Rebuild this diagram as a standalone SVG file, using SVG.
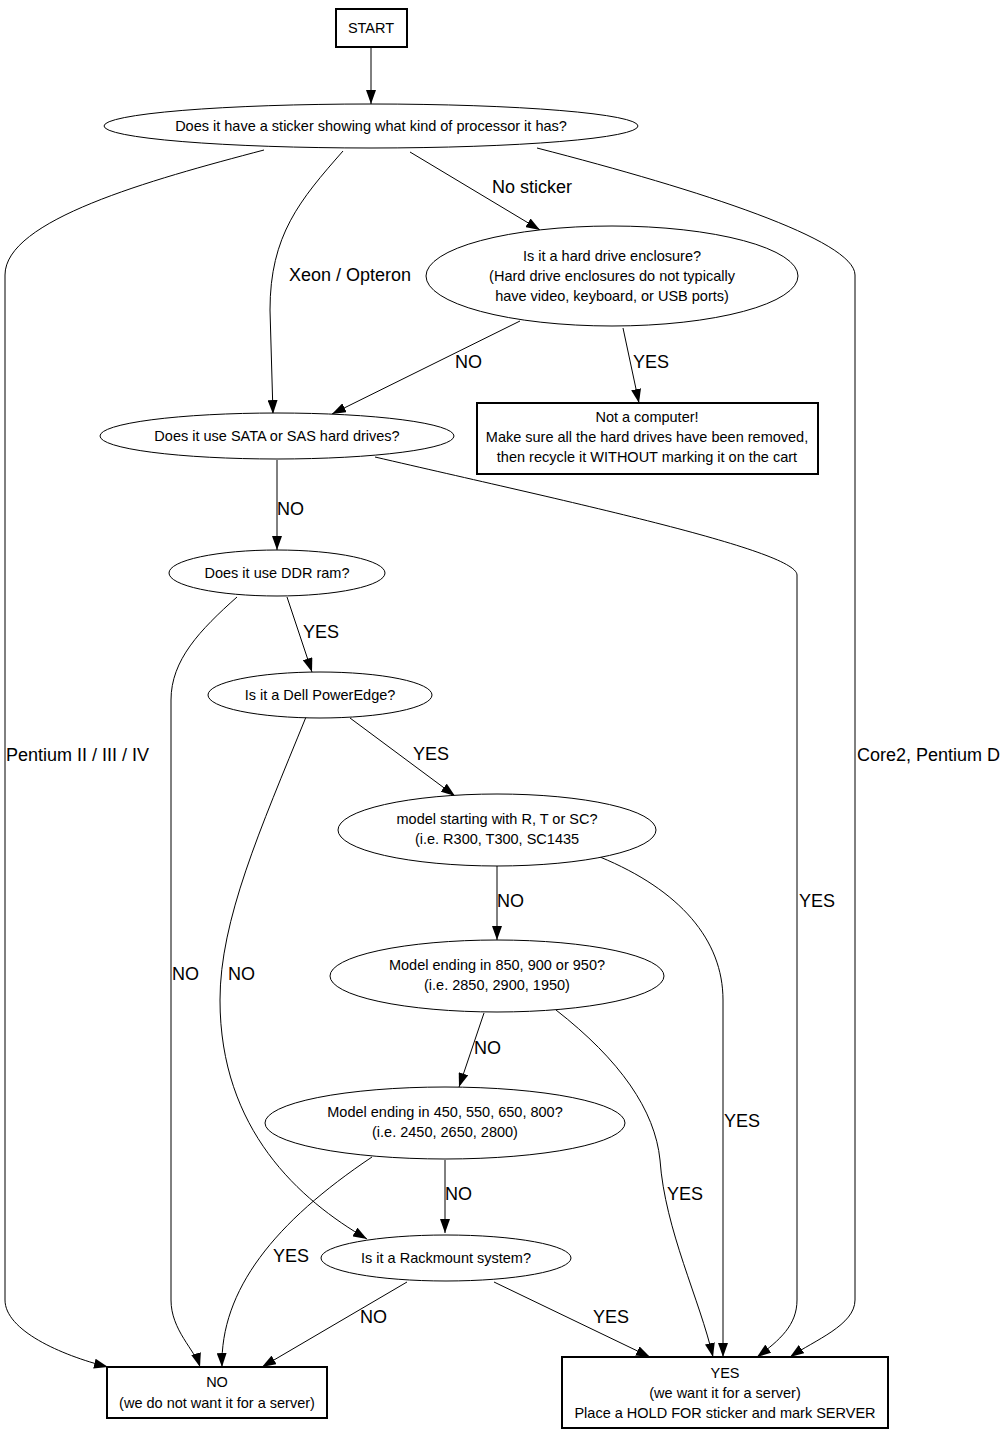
<svg xmlns="http://www.w3.org/2000/svg" width="1007" height="1435" viewBox="0 0 1007 1435">
<style>
.n{fill:#fff;stroke:#000;stroke-width:1}
.b{fill:#fff;stroke:#000;stroke-width:2}
.t{font-family:"Liberation Sans",Arial,sans-serif;font-size:14.5px;text-anchor:middle;fill:#000}
.e{fill:none;stroke:#000;stroke-width:1}
.l{font-family:"Liberation Sans",Arial,sans-serif;font-size:18px;fill:#000}
</style>
<defs>
<marker id="ah" markerWidth="14" markerHeight="10" refX="14" refY="5" orient="auto" markerUnits="userSpaceOnUse">
<path d="M0,0 L14,5 L0,10 z" fill="#000"/>
</marker>
</defs>
<rect width="1007" height="1435" fill="#fff"/>
<g id="connectors">
<path class="e" marker-end="url(#ah)" d="M371,47 L371,104"/>
<path class="e" marker-end="url(#ah)" d="M264,150 C150,180 5,220 5,275 L5,1300 C5,1330 60,1355 108,1367"/>
<text class="l" x="6" y="761">Pentium II / III / IV</text>
<path class="e" marker-end="url(#ah)" d="M343,151 C300,200 270,235 270,310 L273,414"/>
<text class="l" x="289" y="281">Xeon / Opteron</text>
<path class="e" marker-end="url(#ah)" d="M410,152 L540,230"/>
<text class="l" x="492" y="193">No sticker</text>
<path class="e" marker-end="url(#ah)" d="M537,148 C700,190 855,240 855,275 L855,1300 C855,1325 815,1340 790,1357"/>
<text class="l" x="857" y="761">Core2, Pentium D</text>
<path class="e" marker-end="url(#ah)" d="M520,321 L332,414"/>
<text class="l" x="455" y="368">NO</text>
<path class="e" marker-end="url(#ah)" d="M623,328 L639,403"/>
<text class="l" x="633" y="368">YES</text>
<path class="e" marker-end="url(#ah)" d="M277,460 L277,550"/>
<text class="l" x="277" y="515">NO</text>
<path class="e" marker-end="url(#ah)" d="M375,457 C560,500 797,550 797,575 L797,1300 C797,1325 780,1340 757,1357"/>
<text class="l" x="799" y="907">YES</text>
<path class="e" marker-end="url(#ah)" d="M287,597 L312,672"/>
<text class="l" x="303" y="638">YES</text>
<path class="e" marker-end="url(#ah)" d="M237,597 C200,630 171,660 171,700 L171,1300 C171,1330 195,1350 200,1367"/>
<text class="l" x="172" y="980">NO</text>
<path class="e" marker-end="url(#ah)" d="M306,717 C260,830 220,920 220,1000 C220,1130 300,1200 367,1239"/>
<text class="l" x="228" y="980">NO</text>
<path class="e" marker-end="url(#ah)" d="M350,718 L455,796"/>
<text class="l" x="413" y="760">YES</text>
<path class="e" marker-end="url(#ah)" d="M497,866 L497,940"/>
<text class="l" x="497" y="907">NO</text>
<path class="e" marker-end="url(#ah)" d="M600,857 C680,890 723,940 723,1000 L723,1357"/>
<text class="l" x="724" y="1127">YES</text>
<path class="e" marker-end="url(#ah)" d="M484,1013 L459,1087"/>
<text class="l" x="474" y="1054">NO</text>
<path class="e" marker-end="url(#ah)" d="M556,1010 C620,1060 655,1110 660,1160 C665,1230 700,1300 713,1357"/>
<text class="l" x="667" y="1200">YES</text>
<path class="e" marker-end="url(#ah)" d="M445,1160 L445,1233"/>
<text class="l" x="445" y="1200">NO</text>
<path class="e" marker-end="url(#ah)" d="M372,1157 C275,1222 220,1290 222,1367"/>
<text class="l" x="273" y="1262">YES</text>
<path class="e" marker-end="url(#ah)" d="M407,1282 L262,1367"/>
<text class="l" x="360" y="1323">NO</text>
<path class="e" marker-end="url(#ah)" d="M494,1282 L650,1357"/>
<text class="l" x="593" y="1323">YES</text>
</g>
<g id="start"><rect class="b" x="336" y="9" width="71" height="38"/><text class="t" x="371" y="33">START</text></g>
<g id="sticker"><ellipse class="n" cx="371" cy="126" rx="267" ry="22"/><text class="t" x="371" y="131">Does it have a sticker showing what kind of processor it has?</text></g>
<g id="enclosure"><ellipse class="n" cx="612" cy="276" rx="186" ry="50"/><text class="t" x="612" y="261">Is it a hard drive enclosure?</text><text class="t" x="612" y="281">(Hard drive enclosures do not typically</text><text class="t" x="612" y="301">have video, keyboard, or USB ports)</text></g>
<g id="notcomputer"><rect class="b" x="477" y="403" width="341" height="71"/><text class="t" x="647" y="422">Not a computer!</text><text class="t" x="647" y="442">Make sure all the hard drives have been removed,</text><text class="t" x="647" y="462">then recycle it WITHOUT marking it on the cart</text></g>
<g id="sata"><ellipse class="n" cx="277" cy="436" rx="177" ry="23"/><text class="t" x="277" y="441">Does it use SATA or SAS hard drives?</text></g>
<g id="ddr"><ellipse class="n" cx="277" cy="573" rx="108" ry="23"/><text class="t" x="277" y="578">Does it use DDR ram?</text></g>
<g id="poweredge"><ellipse class="n" cx="320" cy="695" rx="112" ry="23"/><text class="t" x="320" y="700">Is it a Dell PowerEdge?</text></g>
<g id="rtsc"><ellipse class="n" cx="497" cy="830" rx="159" ry="36"/><text class="t" x="497" y="824">model starting with R, T or SC?</text><text class="t" x="497" y="844">(i.e. R300, T300, SC1435</text></g>
<g id="m850"><ellipse class="n" cx="497" cy="976" rx="167" ry="36"/><text class="t" x="497" y="970">Model ending in 850, 900 or 950?</text><text class="t" x="497" y="990">(i.e. 2850, 2900, 1950)</text></g>
<g id="m450"><ellipse class="n" cx="445" cy="1123" rx="180" ry="36"/><text class="t" x="445" y="1117">Model ending in 450, 550, 650, 800?</text><text class="t" x="445" y="1137">(i.e. 2450, 2650, 2800)</text></g>
<g id="rackmount"><ellipse class="n" cx="446" cy="1258" rx="125" ry="23"/><text class="t" x="446" y="1263">Is it a Rackmount system?</text></g>
<g id="no"><rect class="b" x="107" y="1367" width="220" height="51"/><text class="t" x="217" y="1387">NO</text><text class="t" x="217" y="1408">(we do not want it for a server)</text></g>
<g id="yes"><rect class="b" x="562" y="1357" width="326" height="71"/><text class="t" x="725" y="1378">YES</text><text class="t" x="725" y="1398">(we want it for a server)</text><text class="t" x="725" y="1418">Place a HOLD FOR sticker and mark SERVER</text></g>
</svg>
